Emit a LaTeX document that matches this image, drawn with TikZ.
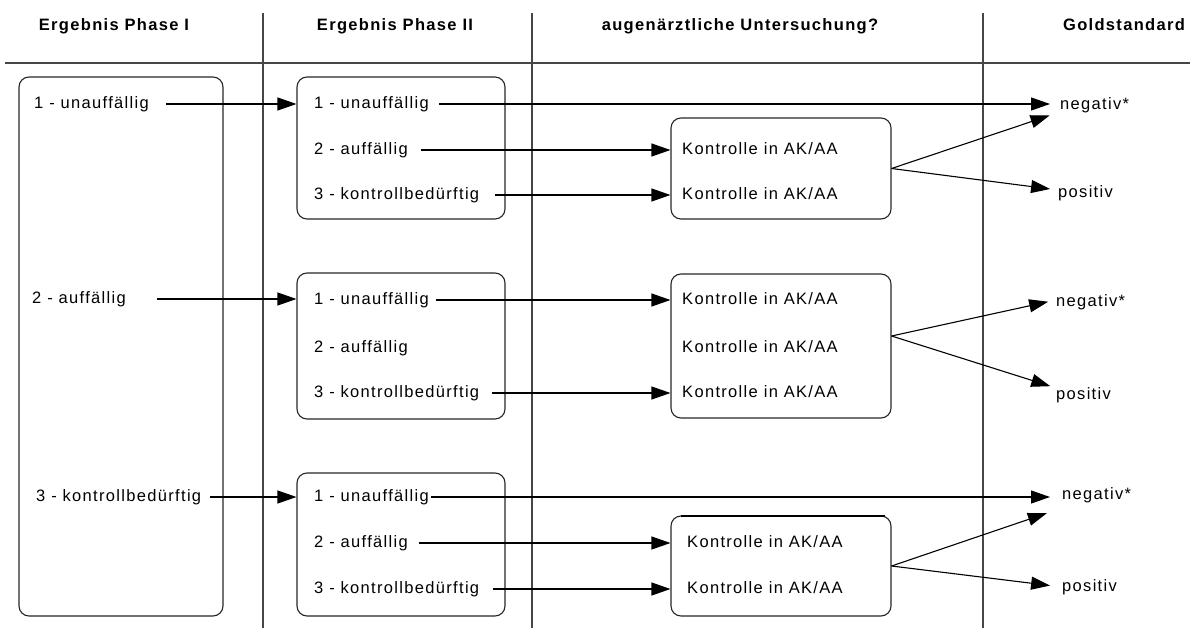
\documentclass[tikz,border=0pt]{standalone}
\usepackage{fontspec}
\setmainfont{Liberation Sans}[LetterSpace=8]
\usetikzlibrary{arrows.meta}
\definecolor{RuleGray}{RGB}{70,70,70}
\tikzset{
  header/.style={font=\fontsize{16.5}{19}\selectfont\bfseries,inner sep=0pt,
    text height=12pt,text depth=3.5pt},
  entry/.style={anchor=west,font=\fontsize{16.5}{19}\selectfont,inner sep=0pt,
    text height=12pt,text depth=3.5pt},
  panel/.style={draw=black!85,rounded corners=10pt,line width=1.1pt,inner sep=0pt},
  rule/.style={draw=RuleGray,line width=1.2pt},
  arrow/.style={-{Triangle[length=19pt,width=13pt]},line width=1.1pt}
}

\begin{document}
\begin{tikzpicture}[x=1pt,y=-1pt]
      \useasboundingbox (0,0) rectangle (1193,628);
      \draw[rule] (5,63) -- (1190,63);
      \foreach \xr in {263,532,983}
        \draw[rule] (\xr,13) -- (\xr,628);
      \node[header] (hdrI) at (114,26) {Ergebnis Phase I};
      \node[header] (hdrII) at (395,26) {Ergebnis Phase II};
      \node[header] (hdrAug) at (740,26) {augenärztliche Untersuchung?};
      \node[header] (hdrGold) at (1124,26) {Goldstandard};

      \node[panel,minimum width=204pt,minimum height=539pt] (ph1) at (121,346.5) {};
      \node[entry] (l1) at (34,104) {1 - unauffällig};
      \node[entry] (l2) at (32,299) {2 - auffällig};
      \node[entry] (l3) at (36,497) {3 - kontrollbedürftig};

      \node[panel,minimum width=208pt,minimum height=142pt] (ph2a) at (401,148) {};
      \node[panel,minimum width=208pt,minimum height=146pt] (ph2b) at (401,346) {};
      \node[panel,minimum width=208pt,minimum height=143pt] (ph2c) at (401,544.5) {};
      \node[entry] (a1) at (314,104) {1 - unauffällig};
      \node[entry] (a2) at (314,150) {2 - auffällig};
      \node[entry] (a3) at (314,195) {3 - kontrollbedürftig};
      \node[entry] (b1) at (314,300) {1 - unauffällig};
      \node[entry] (b2) at (314,348) {2 - auffällig};
      \node[entry] (b3) at (314,393) {3 - kontrollbedürftig};
      \node[entry] (c1) at (314,497) {1 - unauffällig};
      \node[entry] (c2) at (314,543) {2 - auffällig};
      \node[entry] (c3) at (314,589) {3 - kontrollbedürftig};

      \node[panel,minimum width=220pt,minimum height=101pt] (kA) at (781,168.5) {};
      \node[panel,minimum width=220pt,minimum height=144pt] (kB) at (781,346) {};
      \node[panel,minimum width=220pt,minimum height=100pt] (kC) at (781,566) {};
      \draw[line width=2.2pt] ([xshift=11pt,yshift=-0.6pt]kC.north west) -- ([xshift=-7pt,yshift=-0.6pt]kC.north east);
      \node[entry] (ka2) at (682,150) {Kontrolle in AK/AA};
      \node[entry] (ka3) at (682,195) {Kontrolle in AK/AA};
      \node[entry] (kb1) at (682,300) {Kontrolle in AK/AA};
      \node[entry] (kb2) at (682,348) {Kontrolle in AK/AA};
      \node[entry] (kb3) at (682,393) {Kontrolle in AK/AA};
      \node[entry] (kc2) at (687,543) {Kontrolle in AK/AA};
      \node[entry] (kc3) at (687,589) {Kontrolle in AK/AA};

      \node[entry] (negA) at (1060,105) {negativ*};
      \node[entry] (posA) at (1058,193) {positiv};
      \node[entry] (negB) at (1056,302) {negativ*};
      \node[entry] (posB) at (1056,395) {positiv};
      \node[entry] (negC) at (1062,495) {negativ*};
      \node[entry] (posC) at (1062,587) {positiv};

      \draw[arrow,shorten <=17pt] (l1.east) -- (l1 -| ph2a.west);
      \draw[arrow,shorten <=31pt] (l2.east) -- (l2 -| ph2b.west);
      \draw[arrow,shorten <=9pt] (l3.east) -- (l3 -| ph2c.west);

      \draw[arrow,shorten <=10pt,shorten >=10pt] (a1.east) -- (a1 -| negA.west);
      \draw[arrow,shorten <=13pt] (a2.east) -- (a2 -| kA.west);
      \draw[arrow,shorten <=16pt] (a3.east) -- (a3 -| kA.west);
      \draw[arrow,shorten >=11pt] (kA.east) -- ([yshift=-7pt]negA.west);
      \draw[arrow,shorten >=8pt] (kA.east) -- ([yshift=3pt]posA.west);

      \draw[arrow,shorten <=7pt] (b1.east) -- (b1 -| kB.west);
      \draw[arrow,shorten <=13pt] (b3.east) -- (b3 -| kB.west);
      \draw[arrow,shorten >=8pt] ([yshift=10pt]kB.east) -- ([yshift=2pt]negB.west);
      \draw[arrow,shorten >=6pt] ([yshift=10pt]kB.east) -- ([yshift=7pt]posB.west);

      \draw[arrow,shorten <=2pt,shorten >=12pt] (c1.east) -- (c1 -| negC.west);
      \draw[arrow,shorten <=11pt] (c2.east) -- (c2 -| kC.west);
      \draw[arrow,shorten <=14pt] (c3.east) -- (c3 -| kC.west);
      \draw[arrow,shorten >=16pt] (kC.east) -- ([yshift=-13pt]negC.west);
      \draw[arrow,shorten >=12pt] (kC.east) -- (posC.west);
    \end{tikzpicture}
\end{document}
